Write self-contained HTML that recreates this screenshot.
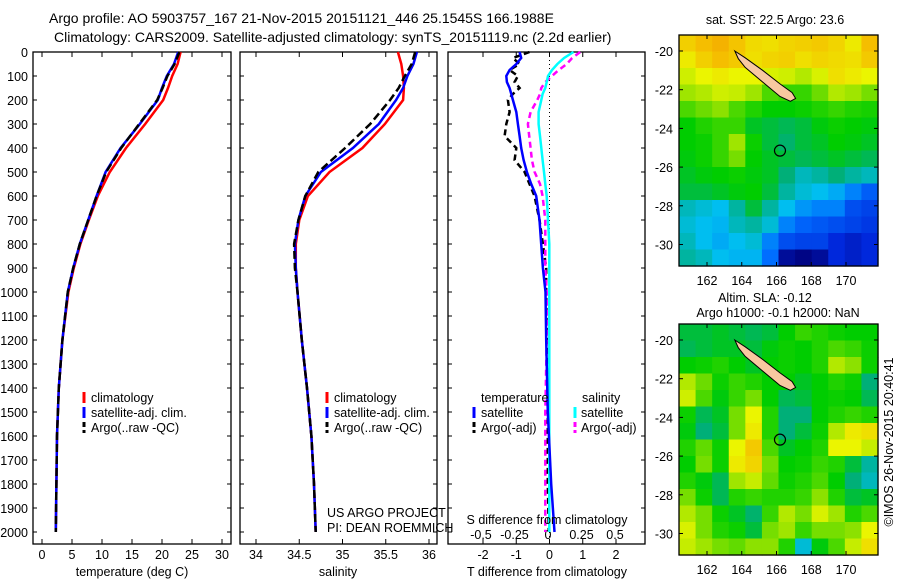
<!DOCTYPE html>
<html><head><meta charset="utf-8"><style>
body{margin:0;background:#fff;}
svg{display:block;font-family:"Liberation Sans",sans-serif;}
text{fill:#000;}
</style></head><body>
<svg id="fig" width="900" height="580" viewBox="0 0 900 580" xmlns="http://www.w3.org/2000/svg">
<text x="49" y="23" font-size="14">Argo profile: AO 5903757_167 21-Nov-2015 20151121_446 25.1545S 166.1988E</text>
<text x="54" y="42" font-size="14">Climatology: CARS2009. Satellite-adjusted climatology: synTS_20151119.nc (2.2d earlier)</text>
<text x="775" y="24" font-size="12.5" text-anchor="middle">sat. SST: 22.5 Argo: 23.6</text>
<text x="765" y="302" font-size="12.5" text-anchor="middle">Altim. SLA: -0.12</text>
<text x="778" y="317" font-size="12.5" text-anchor="middle">Argo h1000: -0.1 h2000: NaN</text>
<text transform="translate(893,442) rotate(-90)" font-size="12.5" text-anchor="middle">©IMOS 26-Nov-2015 20:40:41</text>
<g id="g"></g>
</svg>
<script>
// ---- profile data ----
const depths = [0,50,100,150,200,300,400,500,600,700,800,900,1000,1200,1400,1600,1800,2000];
const tempClim = [23.1,22.6,21.7,21.0,20.2,17.2,14.0,11.3,9.3,7.8,6.4,5.3,4.4,3.4,2.8,2.5,2.4,2.3];
const tempSat  = [22.7,22.0,20.8,20.0,19.3,16.3,13.1,10.6,9.1,7.7,6.3,5.2,4.3,3.4,2.8,2.5,2.4,2.3];
const tempArgo = [22.9,22.1,20.9,20.1,19.2,16.2,13.2,10.7,9.1,7.7,6.3,5.2,4.3,3.4,2.8,2.5,2.4,2.3];
const salClim = [35.64,35.68,35.70,35.71,35.70,35.49,35.23,34.85,34.60,34.50,34.46,34.46,34.48,34.53,34.59,34.64,34.67,34.69];
const salSat  = [35.86,35.82,35.75,35.70,35.62,35.42,35.12,34.75,34.57,34.49,34.45,34.46,34.48,34.53,34.59,34.64,34.67,34.69];
const salArgo = [35.84,35.80,35.72,35.65,35.55,35.32,35.03,34.72,34.57,34.49,34.44,34.45,34.48,34.53,34.59,34.64,34.67,34.69];
const diffDepths = [0,25,50,75,100,125,150,175,200,250,300,350,400,450,500,550,600,700,800,900,1000,1200,1500,1800,2000];
const tDiffSat  = [-0.9,-0.85,-1.0,-1.2,-1.3,-1.28,-1.2,-1.15,-1.1,-1.0,-0.95,-0.9,-0.85,-0.78,-0.68,-0.55,-0.4,-0.3,-0.25,-0.2,-0.12,-0.1,-0.05,0.05,0.15];
const tDiffArgo = [-0.6,-1.1,-0.9,-1.2,-0.95,-1.05,-0.9,-1.1,-1.25,-1.2,-1.3,-1.35,-1.0,-1.05,-0.75,-0.6,-0.45,-0.3,-0.2,-0.1,-0.1,-0.08,-0.05,-0.05,-0.02];
const sDiffSat  = [0.19,0.12,0.07,0.03,0.0,-0.01,-0.02,-0.04,-0.05,-0.07,-0.07,-0.06,-0.05,-0.04,-0.03,-0.02,-0.01,0.0,0.01,0.01,0.01,0.01,0.01,0.01,0.01];
const sDiffArgo = [0.24,0.18,0.14,0.08,0.03,-0.02,-0.05,-0.06,-0.08,-0.13,-0.15,-0.14,-0.13,-0.12,-0.1,-0.06,-0.04,-0.02,-0.02,-0.02,-0.01,-0.01,-0.02,-0.02,-0.02];
const depthTicks = [0,100,200,300,400,500,600,700,800,900,1000,1100,1200,1300,1400,1500,1600,1700,1800,1900,2000];
const tempTicks = [0,5,10,15,20,25,30];
const salTicks = [34,34.5,35,35.5,36];
const tdTicks = [-2,-1,0,1,2];
const sdTicks = [-0.5,-0.25,0,0.25,0.5];
// ---- map data (0=cold/low .. 1=warm/high colour index) ----
const sstGrid = [
[.85,.88,.9,.87,.83,.82,.84,.85,.86,.84,.8,.88],
[.8,.85,.88,.86,.82,.84,.85,.82,.84,.83,.82,.86],
[.75,.78,.8,.78,.78,.76,.75,.72,.76,.82,.8,.78],
[.7,.72,.75,.74,.7,.62,.6,.6,.65,.72,.7,.66],
[.62,.65,.68,.62,.58,.55,.55,.56,.58,.6,.58,.57],
[.55,.58,.6,.6,.52,.5,.48,.5,.54,.56,.55,.54],
[.55,.56,.6,.7,.56,.5,.46,.5,.52,.55,.54,.52],
[.54,.56,.6,.66,.55,.52,.5,.48,.5,.52,.5,.48],
[.52,.54,.55,.56,.54,.52,.45,.4,.42,.45,.42,.4],
[.5,.5,.52,.54,.55,.5,.42,.38,.36,.34,.3,.25],
[.4,.38,.36,.42,.5,.42,.36,.32,.3,.3,.22,.2],
[.38,.36,.35,.4,.42,.38,.3,.26,.24,.22,.2,.18],
[.4,.36,.34,.36,.38,.3,.22,.2,.2,.15,.12,.15],
[.42,.4,.36,.35,.35,.28,.05,.02,.05,.15,.12,.15]];
const slaGrid = [
[.5,.5,.52,.5,.48,.5,.55,.6,.58,.56,.55,.55],
[.48,.5,.52,.52,.5,.54,.56,.55,.58,.62,.6,.56],
[.55,.56,.58,.55,.52,.55,.56,.55,.58,.72,.68,.56],
[.72,.65,.56,.6,.58,.55,.55,.52,.55,.58,.56,.45],
[.75,.62,.54,.6,.66,.55,.48,.5,.55,.56,.55,.48],
[.56,.48,.52,.66,.78,.58,.45,.45,.55,.58,.6,.58],
[.54,.45,.5,.66,.8,.58,.45,.5,.56,.72,.8,.82],
[.58,.64,.56,.78,.86,.62,.52,.55,.58,.78,.78,.74],
[.55,.66,.56,.8,.84,.66,.55,.56,.6,.58,.5,.42],
[.58,.54,.48,.7,.74,.64,.56,.58,.62,.55,.45,.4],
[.66,.56,.48,.58,.6,.58,.58,.6,.68,.58,.5,.52],
[.72,.66,.56,.52,.46,.6,.72,.66,.76,.7,.58,.62],
[.76,.66,.58,.56,.5,.66,.7,.6,.66,.66,.68,.78],
[.74,.7,.66,.64,.68,.68,.58,.38,.54,.62,.74,.82]];
const lonTicks = [162,164,166,168,170];
const latTicks = [-20,-22,-24,-26,-28,-30];
const islandLon = [163.6,164.2,165.2,166.2,166.9,167.1,166.8,166.2,165.2,164.2,163.8];
const islandLat = [-20.0,-20.35,-21.0,-21.7,-22.15,-22.45,-22.6,-22.35,-21.6,-20.85,-20.4];
const argoLon = 166.2, argoLat = -25.15;

const NS="http://www.w3.org/2000/svg";
const G=document.getElementById('g');
function el(tag,attrs,parent){const e=document.createElementNS(NS,tag);for(const k in attrs)e.setAttribute(k,attrs[k]);(parent||G).appendChild(e);return e;}
function txt(s,x,y,anchor,size,name){const t=el('text',{x:x,y:y,'text-anchor':anchor||'start','font-size':size||12.5});t.textContent=s;


return t;}

const TOP=52, BOT=544;
const yD=d=>TOP+d*0.24;
function panel(x0,x1,xs,ticks,name,fmt){
  const r=el('rect',{x:x0,y:TOP,width:x1-x0,height:BOT-TOP,fill:'none',stroke:'#000','stroke-width':1.3});
  
  
  ticks.forEach(v=>{const x=xs(v);
    el('line',{x1:x,x2:x,y1:TOP,y2:TOP+5,stroke:'#000'});
    el('line',{x1:x,x2:x,y1:BOT,y2:BOT-5,stroke:'#000'});
    if(fmt) txt(fmt(v),x,559,'middle',12.5,name+'-tick-label');
  });
  depthTicks.forEach(d=>{el('line',{x1:x0,x2:x0+4,y1:yD(d),y2:yD(d),stroke:'#000'});el('line',{x1:x1,x2:x1-4,y1:yD(d),y2:yD(d),stroke:'#000'});});
}
function line(xs,vals,ds,color,dash,name,w){
  const pts=vals.map((v,i)=>xs(v).toFixed(1)+','+yD(ds[i]).toFixed(1)).join(' ');
  const p=el('polyline',{points:pts,fill:'none',stroke:color,'stroke-width':w||2.5,'stroke-dasharray':dash||'none'});
  
  
}
function legendBar(x,y,color,dashed){el('line',{x1:x,x2:x,y1:y-10,y2:y+1,stroke:color,'stroke-width':3,'stroke-dasharray':dashed?'5,3':'none'});}

const xT=v=>42+v*6;
panel(33,231,xT,tempTicks,'temperature-panel',v=>String(v));
depthTicks.forEach(d=>txt(String(d),28,yD(d)+5,'end',12.5,'depth-tick-label'));
line(xT,tempClim,depths,'#f00',null,'temp-climatology-line');
line(xT,tempSat,depths,'#00f',null,'temp-satellite-line');
line(xT,tempArgo,depths,'#000','8,4','temp-argo-line');
txt('temperature (deg C)',132,576,'middle',12.5,'temperature-axis-title');
[['climatology','#f00',402],['satellite-adj. clim.','#00f',417],['Argo(..raw -QC)','#000',432]].forEach(([s,c,y])=>{legendBar(84,y,c,c=='#000');txt(s,91,y,'start',12.5,'temp-legend-entry');});

const xS=v=>256+(v-34)*86.5;
panel(240,437,xS,salTicks,'salinity-panel',v=>String(v));
line(xS,salClim,depths,'#f00',null,'sal-climatology-line');
line(xS,salSat,depths,'#00f',null,'sal-satellite-line');
line(xS,salArgo,depths,'#000','8,4','sal-argo-line');
txt('salinity',338,576,'middle',12.5,'salinity-axis-title');
[['climatology','#f00',402],['satellite-adj. clim.','#00f',417],['Argo(..raw -QC)','#000',432]].forEach(([s,c,y])=>{legendBar(327,y,c,c=='#000');txt(s,334,y,'start',12.5,'sal-legend-entry');});
txt('US ARGO PROJECT',327,517,'start',12.5,'project-label');
txt('PI: DEAN ROEMMICH',327,532,'start',12.5,'pi-label');

const xTD=v=>549.5+v*33.25;
const xSD=v=>548+v*134;
panel(448,645,xTD,tdTicks,'difference-panel',v=>v<0?'-'+Math.abs(v):String(v));
sdTicks.forEach(v=>txt(v<0?'-'+Math.abs(v):String(v),xSD(v),539,'middle',12.5,'s-diff-tick-label'));
el('line',{x1:xTD(0),x2:xTD(0),y1:TOP,y2:BOT,stroke:'#000','stroke-dasharray':'1,3'});
line(xTD,tDiffArgo,diffDepths,'#000','6,4','t-diff-argo-line');
line(xSD,sDiffArgo,diffDepths,'#f0f','6,4','s-diff-argo-line');
line(xSD,sDiffSat,diffDepths,'#0ff',null,'s-diff-satellite-line');
line(xTD,tDiffSat,diffDepths,'#00f',null,'t-diff-satellite-line');
txt('S difference from climatology',547,524,'middle',12.5,'s-diff-axis-title');
txt('T difference from climatology',547,576,'middle',12.5,'t-diff-axis-title');
txt('temperature',481,402,'start',12.5,'legend-temperature-header');
txt('salinity',582,402,'start',12.5,'legend-salinity-header');
legendBar(474,417,'#00f');txt('satellite',481,417,'start',12.5,'legend-t-satellite');
legendBar(474,432,'#000',true);txt('Argo(-adj)',481,432,'start',12.5,'legend-t-argo');
legendBar(575,417,'#0ff');txt('satellite',581,417,'start',12.5,'legend-s-satellite');
legendBar(575,432,'#f0f',true);txt('Argo(-adj)',581,432,'start',12.5,'legend-s-argo');

const stops=[[0,[0,0,120]],[0.15,[0,40,220]],[0.28,[0,110,255]],[0.36,[0,190,240]],[0.45,[0,175,120]],[0.55,[0,205,0]],[0.68,[140,225,0]],[0.78,[235,245,0]],[0.88,[245,190,0]],[1,[240,120,0]]];
function cmap(v){for(let i=1;i<stops.length;i++){if(v<=stops[i][0]){const a=stops[i-1],b=stops[i],t=(v-a[0])/(b[0]-a[0]);return 'rgb('+a[1].map((c,k)=>Math.round(c+(b[1][k]-c)*t)).join(',')+')';}}return 'rgb(240,120,0)';}
function map(grid,top,name){
  const X0=679,X1=878,Y0=top,Y1=top+231;
  const lonX=l=>707+(l-162)*17.375;
  const latY=l=>top+16+(-20-l)*19.35;
  const rows=grid.length,cols=grid[0].length,cw=(X1-X0)/cols,ch=(Y1-Y0)/rows;
  grid.forEach((row,r)=>row.forEach((v,c)=>{
    const cell=el('rect',{x:(X0+c*cw).toFixed(2),y:(Y0+r*ch).toFixed(2),width:(cw+0.6).toFixed(2),height:(ch+0.6).toFixed(2),fill:cmap(v)});
    
    
  }));
  const isl=el('polygon',{points:islandLon.map((l,i)=>lonX(l).toFixed(1)+','+latY(islandLat[i]).toFixed(1)).join(' '),fill:'#f8c8a0',stroke:'#000','stroke-width':1});
  
  
  const c=el('circle',{cx:lonX(argoLon),cy:latY(argoLat),r:5.5,fill:'none',stroke:'#000','stroke-width':1.2});
  
  
  const f=el('rect',{x:X0,y:Y0,width:X1-X0,height:Y1-Y0,fill:'none',stroke:'#000','stroke-width':1.3});
  
  
  lonTicks.forEach(l=>{const x=lonX(l);el('line',{x1:x,x2:x,y1:Y0,y2:Y0+4,stroke:'#000'});el('line',{x1:x,x2:x,y1:Y1,y2:Y1-4,stroke:'#000'});txt(String(l),x,Y1+19,'middle',12.5,name+'-lon-label');});
  latTicks.forEach(l=>{const y=latY(l);el('line',{x1:X0,x2:X0+4,y1:y,y2:y,stroke:'#000'});el('line',{x1:X1,x2:X1-4,y1:y,y2:y,stroke:'#000'});txt(String(l),673,y+5,'end',12.5,name+'-lat-label');});
}
map(sstGrid,35,'sst-map');
map(slaGrid,324,'sla-map');
</script>
</body></html>
